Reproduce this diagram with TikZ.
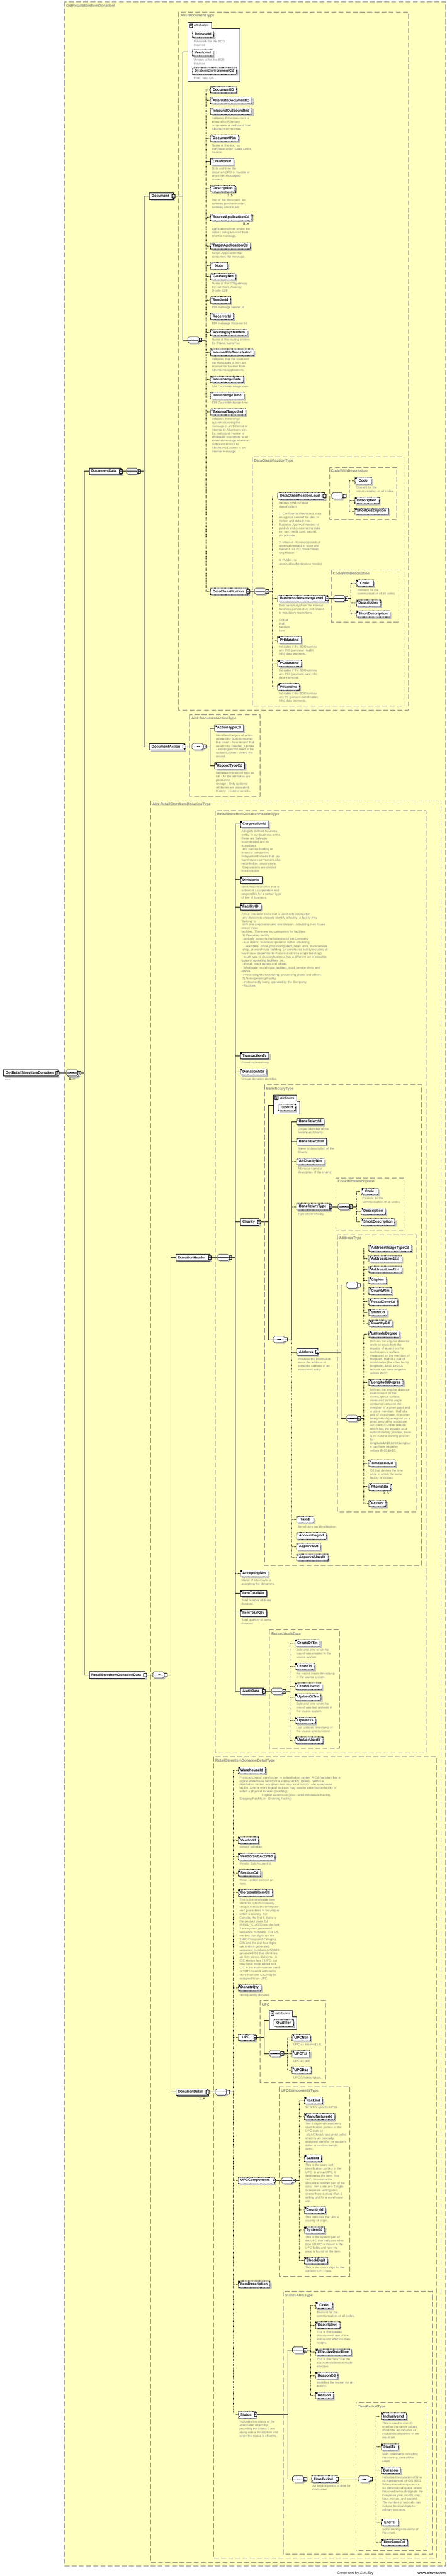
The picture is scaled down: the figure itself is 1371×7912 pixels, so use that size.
\documentclass[tikz,border=0pt]{standalone}
\usepackage{fontspec}
\setmainfont{Liberation Sans}
\usetikzlibrary{positioning,shadows,arrows.meta}

\definecolor{schemabg}{RGB}{255,255,192}
\definecolor{schemagray}{RGB}{128,128,128}

\pgfdeclarelayer{back}
\pgfdeclarelayer{wires}
\pgfsetlayers{back,wires,main}

\newcommand{\eqmark}{\draw[solid, line width=.6pt] ([shift={(2pt,-1.5pt)}]path picture bounding box.north west) -- ++(4pt,0pt) ++(-4pt,-1.7pt) -- ++(4pt,0pt) ++(-4pt,-1.7pt) -- ++(4pt,0pt);}
\newcommand{\refmark}{\draw[solid, line width=.6pt,-{Stealth[length=2.4pt,width=2.4pt]}] ([shift={(1.5pt,1.5pt)}]path picture bounding box.south west) -- ++(3.5pt,3.5pt);}
\newcommand{\seqoutline}[3]{([shift={(#2+4.5pt,#3)}]#1.north west) -- ([shift={(#2-4.5pt,#3)}]#1.north east) -- ([shift={(#2,#3-4.5pt)}]#1.north east) -- ([shift={(#2,#3+4.5pt)}]#1.south east) -- ([shift={(#2-4.5pt,#3)}]#1.south east) -- ([shift={(#2+4.5pt,#3)}]#1.south west) -- ([shift={(#2,#3+4.5pt)}]#1.south west) -- ([shift={(#2,#3-4.5pt)}]#1.north west) -- cycle}
\newcommand{\seqdraw}[2]{%
  \fill[black!25] \seqoutline{#1}{4pt}{-4pt};
  \ifnum#2=1\relax
    \fill[black!25] \seqoutline{#1}{7pt}{-7pt};
    \draw[fill=white, line width=.8pt] \seqoutline{#1}{3pt}{-3pt};
  \fi
  \draw[fill=white, line width=.8pt] \seqoutline{#1}{0pt}{0pt};
  \draw[line width=.8pt] ([xshift=2pt]#1.west) -- ([xshift=-2pt]#1.east);
  \foreach \k in {-4.5,0,4.5} \fill[black] ([xshift=\k pt]#1.center) +(-1.3pt,-1.3pt) rectangle +(1.3pt,1.3pt);
  \node[tog] at ([xshift=4pt]#1.east) {};}

\begin{document}
\begin{tikzpicture}[x=1pt, y=-1pt,
  el/.style={draw, fill=white, line width=.8pt, anchor=west,
    font=\fontsize{11}{13}\selectfont\bfseries,
    minimum height=20pt, minimum width=52pt, inner xsep=7pt, inner ysep=0pt,
    drop shadow={shadow xshift=5pt, shadow yshift=-5pt, fill=black!25, opacity=1}},
  opt/.style={dash pattern=on 2pt off 1.5pt},
  lf/.style={path picture={\eqmark}},
  lfr/.style={path picture={\eqmark\refmark}},
  rf/.style={path picture={\refmark}},
  tog/.style={draw, solid, fill=white, line width=.8pt, anchor=center, minimum width=9pt, minimum height=11pt, inner sep=0pt,
    path picture={\draw[line width=.8pt] ([xshift=1.8pt]path picture bounding box.west) -- ([xshift=-1.8pt]path picture bounding box.east);}},
  pa/.style={execute at end node={\hspace*{6pt}},
    append after command={\pgfextra{\let\pnode\tikzlastnode} node[tog] at ([xshift=-1pt]\pnode.east) {}}},
  ol/.style={el, opt, lf}, ml/.style={el, lf},
  olr/.style={el, opt, lfr}, mlr/.style={el, lfr},
  op/.style={el, opt, pa}, mp/.style={el, pa},
  opr/.style={el, opt, pa, rf},
  oa/.style={el, opt, minimum width=0pt},
  mu/.style={copy shadow={shadow xshift=3pt, shadow yshift=-3pt}},
  sqbox/.style={rectangle, anchor=west, minimum width=35pt, minimum height=19pt, inner sep=0pt, outer sep=0pt},
  sq/.style={sqbox, append after command={\pgfextra{\let\snode\tikzlastnode \seqdraw{\snode}{0}}}},
  sqm/.style={sqbox, append after command={\pgfextra{\let\snode\tikzlastnode \seqdraw{\snode}{1}}}},
  dsc/.style={anchor=north west, inner sep=0pt, align=left, text=schemagray, font=\fontsize{9.5}{11}\selectfont},
  mult/.style={anchor=north east, inner sep=0pt, font=\fontsize{10.5}{12}\selectfont},
  tbox/.style={draw=schemagray, line width=1pt, dash pattern=on 15pt off 7pt},
  tname/.style={anchor=west, inner sep=0pt, text=schemagray, font=\fontsize{11}{13}\selectfont\bfseries},
  attbox/.style={draw, fill=white, line width=.8pt},
  attname/.style={anchor=west, inner sep=0pt, font=\fontsize{11}{13}\selectfont\itshape},
  wire/.style={line width=.8pt},
  owire/.style={wire, dash pattern=on 2pt off 2pt}
]
\useasboundingbox (0,0) rectangle (1371,7912);
\begin{pgfonlayer}{back}
  \fill[schemabg] (198,5) rectangle (1367,7881);
\end{pgfonlayer}

% type frames
\draw[tbox] (198,5) rectangle (1367,7881);
\node[tname] (nOuter) at (203,18) {GetRetailStoreItemDonationt};
\draw[tbox] (548,37) rectangle (1253,2181);
\node[tname] (nDocumentType) at (554,49) {Abs:DocumentType};
\draw[tbox] (774,1403) rectangle (1239,2169);
\node[tname] (nDataClassificationType) at (780,1416) {DataClassificationType};
\draw[tbox] (1011,1435) rectangle (1218,1596);
\node[tname] (nCodeWithDescA) at (1016,1447) {CodeWithDescription};
\draw[tbox] (1017,1750) rectangle (1224,1911);
\node[tname] (nCodeWithDescB) at (1022,1762) {CodeWithDescription};
\draw[tbox] (582,2195) rectangle (798,2445);
\node[tname] (nDocumentActionType) at (588,2207) {Abs:DocumentActionType};
\draw[tbox] (462,2459) rectangle (1354,7870);
\node[tname] (nRetailStoreItemDonationType) at (468,2471) {Abs:RetailStoreItemDonationType};
\draw[tbox] (660,2490) rectangle (1308,5383);
\node[tname] (nHeaderType) at (666,2502) {RetailStoreItemDonationHeaderType};
\draw[tbox] (812,3331) rectangle (1293,4808);
\node[tname] (nBeneficiaryType) at (817,3344) {BeneficiaryType};
\draw[tbox] (1031,3618) rectangle (1239,3778);
\node[tname] (nCodeWithDescC) at (1037,3630) {CodeWithDescription};
\draw[tbox] (1035,3792) rectangle (1279,4643);
\node[tname] (nAddressType) at (1040,3804) {AddressType};
\draw[tbox] (827,5005) rectangle (1041,5370);
\node[tname] (nRecordAuditData) at (833,5017) {RecordAuditData};
\draw[tbox] (655,5395) rectangle (1339,7857);
\node[tname] (nDetailType) at (661,5408) {RetailStoreItemDonationDetailType};
\draw[tbox] (798,6144) rectangle (999,6396);
\node[tname] (nUPC) at (804,6157) {UPC};
\draw[tbox] (857,6409) rectangle (1074,6991);
\node[tname] (nUPCComponentsType) at (862,6422) {UPCComponentsType};
\draw[tbox] (869,7038) rectangle (1326,7845);
\node[tname] (nStatusABIEType) at (875,7051) {StatusABIEType};
\draw[tbox] (1093,7379) rectangle (1311,7833);
\node[tname] (nTimePeriodType) at (1099,7392) {TimePeriodType};

% root
\node[mp] (GetRetailStoreItemDonation) at (10,3295) {GetRetailStoreItemDonation};
\node[dsc] (rootNote) at ([shift={(5pt,-8pt)}]GetRetailStoreItemDonation.south west) {root};
\node[sqm] (sqRoot) at (204,3295) {};
\node[mult, anchor=north] (mRoot) at ([yshift=-5pt]sqRoot.south) {1..∞};
\node[mp] (DocumentData) at (273,1447) {DocumentData};
\node[sq] (sqDocumentData) at (388,1447) {};
\node[mp] (RetailStoreItemDonationData) at (273,5144) {RetailStoreItemDonationData};
\node[sq] (sqDonationData) at (469,5144) {};

% document
\node[mp] (Document) at (458,602) {Document};
\draw[attbox] (576,68) -- (649,68) -- (649,87) -- (736,87) -- (736,251) -- (576,251) -- cycle;
\node[tog] (tgAttrDocument) at (586,78) {};
\node[attname] (attrDocument) at (595,78) {attributes};
\coordinate (atDocument) at (576,159);
\node[oa] (ReleaseId) at (590,105) {ReleaseId};
\node[dsc] (dReleaseId) at ([shift={(4pt,-8pt)}]ReleaseId.south west) {ReleaseId for the BOD\\instance};
\node[oa] (VersionId) at (590,162) {VersionId};
\node[dsc] (dVersionId) at ([shift={(4pt,-8pt)}]VersionId.south west) {Version Id for the BOD\\instance};
\node[oa] (SystemEnvironmentCd) at (590,218) {SystemEnvironmentCd};
\node[dsc] (dSystemEnvironmentCd) at ([shift={(4pt,-8pt)}]SystemEnvironmentCd.south west) {Prod, Test, QA};
\node[sq] (sqDocument) at (576,1044) {};

\node[ol] (DocumentID) at (646,275) {DocumentID};
\node[ol] (AlternateDocumentID) at (646,308) {AlternateDocumentID};
\node[ol] (InboundOutboundInd) at (646,341) {InboundOutboundInd};
\node[dsc] (dInboundOutboundInd) at ([shift={(4pt,-8pt)}]InboundOutboundInd.south west) {Indicates if the document is\\inbound to Albertson\\companies or outbound from\\Albertson companies.};
\node[ol] (DocumentNm) at (646,424) {DocumentNm};
\node[dsc] (dDocumentNm) at ([shift={(4pt,-8pt)}]DocumentNm.south west) {Name of the doc. ex\\Purchase order, Sales Order,\\Invoice.};
\node[ml] (CreationDt) at (646,496) {CreationDt};
\node[dsc] (dCreationDt) at ([shift={(4pt,-8pt)}]CreationDt.south west) {Date and time the\\document( PO or Invoice or\\any other messages)\\created.};
\node[ol, mu] (Description) at (646,579) {Description};
\node[mult] (mDescription) at ([shift={(-7pt,-6pt)}]Description.south east) {0..5};
\node[dsc] (dDescription) at ([shift={(4pt,-22pt)}]Description.south west) {Dsc of the document. ex\\safeway purchase order,\\safeway invoice..etc};
\node[ol, mu] (SourceApplicationCd) at (646,667) {SourceApplicationCd};
\node[mult] (mSourceApplicationCd) at ([shift={(-7pt,-6pt)}]SourceApplicationCd.south east) {0..∞};
\node[dsc] (dSourceApplicationCd) at ([shift={(4pt,-22pt)}]SourceApplicationCd.south west) {Applications from where the\\data is being sourced from\\into the message.};
\node[ol] (TargetApplicationCd) at (646,755) {TargetApplicationCd};
\node[dsc] (dTargetApplicationCd) at ([shift={(4pt,-8pt)}]TargetApplicationCd.south west) {Target Application that\\consumes the message.};
\node[ol] (Note) at (646,816) {Note};
\node[ol] (GatewayNm) at (646,849) {GatewayNm};
\node[dsc] (dGatewayNm) at ([shift={(4pt,-8pt)}]GatewayNm.south west) {Name of the EDI gateway.\\Ex: Gentran, Axaway,\\Oracle B2B};
\node[ol] (SenderId) at (646,921) {SenderId};
\node[dsc] (dSenderId) at ([shift={(4pt,-8pt)}]SenderId.south west) {EDI message sender Id};
\node[ol] (ReceiverId) at (646,971) {ReceiverId};
\node[dsc] (dReceiverId) at ([shift={(4pt,-8pt)}]ReceiverId.south west) {EDI message Receiver Id};
\node[ol] (RoutingSystemNm) at (646,1021) {RoutingSystemNm};
\node[dsc] (dRoutingSystemNm) at ([shift={(4pt,-8pt)}]RoutingSystemNm.south west) {Name of the routing system.\\Ex iTrade, wims Fax};
\node[ol] (InternalFileTransferInd) at (646,1082) {InternalFileTransferInd};
\node[dsc] (dInternalFileTransferInd) at ([shift={(4pt,-8pt)}]InternalFileTransferInd.south west) {Indicates that the source of\\the messages is from an\\internal file transfer from\\Albertsons applications.};
\node[ol] (InterchangeDate) at (646,1165) {InterchangeDate};
\node[dsc] (dInterchangeDate) at ([shift={(4pt,-8pt)}]InterchangeDate.south west) {EDI Data interchange date};
\node[ol] (InterchangeTime) at (646,1215) {InterchangeTime};
\node[dsc] (dInterchangeTime) at ([shift={(4pt,-8pt)}]InterchangeTime.south west) {EDI Data interchange time};
\node[ol] (ExternalTargetInd) at (646,1265) {ExternalTargetInd};
\node[dsc] (dExternalTargetInd) at ([shift={(4pt,-8pt)}]ExternalTargetInd.south west) {Indicates if the target\\system receiving the\\message is an External or\\Internal to Albertsons cos.\\Ex: outbound invoice to\\wholesale customers is an\\external message where as\\outbound invoice to\\Albertsons Lawson is an\\Internal message.};
\node[op] (DataClassification) at (646,1816) {DataClassification};
\node[sq] (sqDataClassification) at (781,1816) {};

\node[op] (DataClassificationLevel) at (852,1523) {DataClassificationLevel};
\node[dsc] (dDataClassificationLevel) at ([shift={(4pt,-8pt)}]DataClassificationLevel.south west) {various levels of data\\classification\\[11pt]1- Confidential/Restricted, data\\encryption needed for data in\\motion and data in rest.\\Business Approval needed to\\publish and consume the data.\\ex: ssn, credit card, payroll,\\phi,pci data\\[11pt]2- Internal - No encryption but\\approval needed to store and\\transmit. ex PO, Store Order,\\Org Master\\[11pt]3- Public - no\\approval/authentication needed};
\node[sq] (sqDCLevel) at (1018,1523) {};
\node[olr] (CodeA) at (1088,1476) {Code};
\node[dsc] (dCodeA) at ([shift={(4pt,-8pt)}]CodeA.south west) {Element for the\\communication of all codes.};
\node[ol] (DescriptionA) at (1088,1537) {Description};
\node[ol] (ShortDescriptionA) at (1088,1570) {ShortDescription};
\node[op] (BusinessSensitivityLevel) at (852,1838) {BusinessSensitivityLevel};
\node[dsc] (dBusinessSensitivityLevel) at ([shift={(4pt,-8pt)}]BusinessSensitivityLevel.south west) {Data sensitivity from the internal\\business perspective, not related\\to regulatory restrictions.\\[11pt]Critical\\High\\Medium\\Low};
\node[sq] (sqBSLevel) at (1024,1838) {};
\node[olr] (CodeB) at (1093,1791) {Code};
\node[dsc] (dCodeB) at ([shift={(4pt,-8pt)}]CodeB.south west) {Element for the\\communication of all codes.};
\node[ol] (DescriptionB) at (1093,1852) {Description};
\node[ol] (ShortDescriptionB) at (1093,1885) {ShortDescription};
\node[ol] (PHIdataInd) at (852,1965) {PHIdataInd};
\node[dsc] (dPHIdataInd) at ([shift={(4pt,-8pt)}]PHIdataInd.south west) {Indicates if the BOD carries\\any PHI (personal Health\\Info) data elements.};
\node[ol] (PCIdataInd) at (852,2037) {PCIdataInd};
\node[dsc] (dPCIdataInd) at ([shift={(4pt,-8pt)}]PCIdataInd.south west) {Indicates if the BOD carries\\any PCI (payment card info)\\data elements.};
\node[ol] (PIIdataInd) at (852,2109) {PIIdataInd};
\node[dsc] (dPIIdataInd) at ([shift={(4pt,-8pt)}]PIIdataInd.south west) {Indicates if the BOD carries\\any PII (person identification\\Info) data elements.};

% document action
\node[mp] (DocumentAction) at (458,2293) {DocumentAction};
\node[sq] (sqDocumentAction) at (589,2293) {};
\node[ml] (ActionTypeCd) at (659,2236) {ActionTypeCd};
\node[dsc] (dActionTypeCd) at ([shift={(4pt,-8pt)}]ActionTypeCd.south west) {Identifies the type of action\\needed for BOD consumer\\like Insert - New record that\\need to be inserted, Update\\- existing record need to be\\updated,delete - delete the\\record.};
\node[ml] (RecordTypeCd) at (659,2352) {RecordTypeCd};
\node[dsc] (dRecordTypeCd) at ([shift={(4pt,-8pt)}]RecordTypeCd.south west) {Identifies the record type as\\full - All the attributes are\\populated,\\change - Only updated\\attributes are populated,\\History - Historic records.};

% donation header
\node[mp] (DonationHeader) at (539,3862) {DonationHeader};
\node[sq] (sqDonationHeader) at (668,3862) {};
\node[mlr] (CorporationId) at (737,2531) {CorporationId};
\node[dsc] (dCorporationId) at ([shift={(4pt,-8pt)}]CorporationId.south west) {A legally defined business\\entity. In our business terms\\these are Safeway\\Incorporated and its\\associates\\\hspace*{3pt}and various holding or\\financial companies.\\Independent stores that\hspace*{3pt} our\\warehouses service are also\\recorded as corporations.\\\hspace*{3pt}Corporations are divided\\into divisions};
\node[mlr] (DivisionId) at (737,2702) {DivisionId};
\node[dsc] (dDivisionId) at ([shift={(4pt,-8pt)}]DivisionId.south west) {Identifies the division that is\\subset of a corporation and\\responsible for a certain type\\of line of business.};
\node[ml] (FacilityID) at (737,2785) {FacilityID};
\node[dsc] (dFacilityID) at ([shift={(4pt,-8pt)}]FacilityID.south west) {A four character code that is used with corporation\\\hspace*{3pt}and division to uniquely identify a facility. A facility may\\"belong" to\\\hspace*{3pt}only one corporation and one division. A building may house\\one or more\\facilities. There are two categories for facilities:\\\hspace*{3pt}1) Operating facility\\\hspace*{3pt}- actively supports the business of the Company\\\hspace*{3pt}- is a distinct business operation within a building\\\hspace*{6pt}- examples: office, processing plant, retail store, truck service\\\hspace*{3pt}shop, or warehouse building\hspace*{3pt} (A warehouse facility includes all\\warehouse departments that exist within a single building.)\\\hspace*{3pt}- each type of division/business has a different set of possible\\types of operating facilities: i.e.,\\\hspace*{3pt}- Retail: retail outlets and offices.\\- Wholesale: warehouse facilities, truck service shop, and\\offices.\\- Processing/Manufacturing: processing plants and offices.\\\hspace*{3pt}2) Non-operating Facility\\\hspace*{3pt}- not currently being operated by the Company.\\\hspace*{3pt}- facilities};
\node[ml] (TransactionTs) at (737,3242) {TransactionTs};
\node[dsc] (dTransactionTs) at ([shift={(4pt,-8pt)}]TransactionTs.south west) {Donation timestamp.};
\node[ol] (DonationNbr) at (737,3292) {DonationNbr};
\node[dsc] (dDonationNbr) at ([shift={(4pt,-8pt)}]DonationNbr.south west) {Unique donation identifier.};
\node[mp] (Charity) at (737,3753) {Charity};
\node[ol] (AcceptingNm) at (737,4832) {AcceptingNm};
\node[dsc] (dAcceptingNm) at ([shift={(4pt,-8pt)}]AcceptingNm.south west) {Name of whomever is\\accepting the donations.};
\node[ml] (ItemTotalNbr) at (737,4893) {ItemTotalNbr};
\node[dsc] (dItemTotalNbr) at ([shift={(4pt,-8pt)}]ItemTotalNbr.south west) {Total number of items\\donated.};
\node[ml] (ItemTotalQty) at (737,4954) {ItemTotalQty};
\node[dsc] (dItemTotalQty) at ([shift={(4pt,-8pt)}]ItemTotalQty.south west) {Total quantity of items\\donated.};
\node[mp] (AuditData) at (737,5194) {AuditData};
\node[sq] (sqAuditData) at (833,5194) {};

% charity
\draw[attbox] (839,3363) -- (911,3363) -- (911,3382) -- (920,3382) -- (920,3421) -- (839,3421) -- cycle;
\node[tog] (tgAttrCharity) at (849,3372) {};
\node[attname] (attrCharity) at (858,3372) {attributes};
\coordinate (atCharity) at (839,3394);
\node[oa] (TypeCd) at (853,3401) {TypeCd};
\node[sq] (sqCharity) at (839,4114) {};
\node[ml] (BeneficiaryId) at (910,3445) {BeneficiaryId};
\node[dsc] (dBeneficiaryId) at ([shift={(4pt,-8pt)}]BeneficiaryId.south west) {Unique identifier of the\\beneficiary/charity.};
\node[ml] (BeneficiaryNm) at (910,3506) {BeneficiaryNm};
\node[dsc] (dBeneficiaryNm) at ([shift={(4pt,-8pt)}]BeneficiaryNm.south west) {Name or description of the\\Charity.};
\node[ol] (AltCharityNm) at (910,3567) {AltCharityNm};
\node[dsc] (dAltCharityNm) at ([shift={(4pt,-8pt)}]AltCharityNm.south west) {Alternate name or\\description of the charity.};
\node[op] (BeneficiaryType) at (910,3706) {BeneficiaryType};
\node[dsc] (dBeneficiaryType) at ([shift={(4pt,-8pt)}]BeneficiaryType.south west) {Type of beneficiary.};
\node[sq] (sqBeneficiaryType) at (1038,3706) {};
\node[olr] (CodeC) at (1108,3659) {Code};
\node[dsc] (dCodeC) at ([shift={(4pt,-8pt)}]CodeC.south west) {Element for the\\communication of all codes.};
\node[ol] (DescriptionC) at (1108,3720) {Description};
\node[ol] (ShortDescriptionC) at (1108,3753) {ShortDescription};
\node[el, pa, rf] (Address) at (910,4152) {Address};
\node[dsc] (dAddress) at ([shift={(4pt,-8pt)}]Address.south west) {Provides the information\\about the address or\\semantic address of an\\associated entity.};
\node[sq] (sqAddressA) at (1063,3947) {};
\node[sq] (sqAddressB) at (1063,4356) {};
\node[ol] (AddressUsageTypeCd) at (1132,3833) {AddressUsageTypeCd};
\node[ol] (AddressLine1txt) at (1132,3866) {AddressLine1txt};
\node[ol] (AddressLine2txt) at (1132,3899) {AddressLine2txt};
\node[ol] (CityNm) at (1132,3932) {CityNm};
\node[ol] (CountyNm) at (1132,3965) {CountyNm};
\node[ol] (PostalZoneCd) at (1132,3998) {PostalZoneCd};
\node[ol] (StateCd) at (1132,4031) {StateCd};
\node[ol] (CountryCd) at (1132,4064) {CountryCd};
\node[ol] (LatitudeDegree) at (1132,4097) {LatitudeDegree};
\node[dsc] (dLatitudeDegree) at ([shift={(4pt,-8pt)}]LatitudeDegree.south west) {Defines the angular distance\\north or south from the\\equator of a point on the\\earth\&apos;s surface,\\measured on the meridian of\\the point. Half of a pair of\\coordinates (the other being\\longitude).\&\#10;\&\#10;A\\latitude can have negative\\values.\&\#10;};
\node[ol] (LongitudeDegree) at (1132,4246) {LongitudeDegree};
\node[dsc] (dLongitudeDegree) at ([shift={(4pt,-8pt)}]LongitudeDegree.south west) {Defines the angular distance\\east or west on the\\earth\&apos;s surface,\\measured by the angle\\contained between the\\meridian of a given point and\\a prime meridian.\hspace*{3pt} Half of a\\pair of coordinates (the other\\being latitude) assigned via a\\point geocoding procedure.\\\&\#10;\&\#10;Unlike latitude,\\which has the equator as a\\natural starting position, there\\is no natural starting position\\for\\longitude\&\#10;\&\#10;Longitud\\e can have negative\\values.\&\#10;\&\#10;};
\node[ol] (TimeZoneCdA) at (1132,4494) {TimeZoneCd};
\node[dsc] (dTimeZoneCdA) at ([shift={(4pt,-8pt)}]TimeZoneCdA.south west) {Cd that defines the time\\zone in which the store\\facility is located.};
\node[ol, mu] (PhoneNbr) at (1132,4566) {PhoneNbr};
\node[mult] (mPhoneNbr) at ([shift={(-6pt,-6pt)}]PhoneNbr.south east) {0..3};
\node[ol] (FaxNbr) at (1132,4618) {FaxNbr};
\node[ol] (TaxId) at (910,4667) {TaxId};
\node[dsc] (dTaxId) at ([shift={(4pt,-8pt)}]TaxId.south west) {Beneficiary tax identification.};
\node[ol] (AccountingInd) at (910,4717) {AccountingInd};
\node[ol] (ApprovalDt) at (910,4750) {ApprovalDt};
\node[ol] (ApprovalUserId) at (910,4783) {ApprovalUserId};

% audit data
\node[ol] (CreateDtTm) at (905,5046) {CreateDtTm};
\node[dsc] (dCreateDtTm) at ([shift={(4pt,-8pt)}]CreateDtTm.south west) {Date and time when the\\record was created in the\\source system.};
\node[ol] (CreateTs) at (905,5118) {CreateTs};
\node[dsc] (dCreateTs) at ([shift={(4pt,-8pt)}]CreateTs.south west) {the record create timestamp\\in the source system.};
\node[ol] (CreateUserId) at (905,5179) {CreateUserId};
\node[ol] (UpdateDtTm) at (905,5212) {UpdateDtTm};
\node[dsc] (dUpdateDtTm) at ([shift={(4pt,-8pt)}]UpdateDtTm.south west) {Date and time when the\\record was last updated in\\the source system.};
\node[ol] (UpdateTs) at (905,5284) {UpdateTs};
\node[dsc] (dUpdateTs) at ([shift={(4pt,-8pt)}]UpdateTs.south west) {Last updated timestamp of\\the source sytem record.};
\node[ol] (UpdateUserId) at (905,5345) {UpdateUserId};

% donation detail
\node[mp, mu] (DonationDetail) at (539,6425) {DonationDetail};
\node[mult] (mDonationDetail) at ([shift={(-7pt,-6pt)}]DonationDetail.south east) {1..∞};
\node[sq] (sqDonationDetail) at (661,6425) {};
\node[olr] (WarehouseId) at (731,5437) {WarehouseId};
\node[dsc] (dWarehouseId) at ([shift={(4pt,-8pt)}]WarehouseId.south west) {Physical/Logical warehouse\hspace*{3pt} in a distribution center. A Cd that identifies a\\logical warehouse facility or a supply facility\hspace*{3pt} (plant).\hspace*{3pt} Within a\\distribution center, any given item may exist in only\hspace*{3pt} one warehouse\\facility. One or more logical facilities may exist in adistribution facility or\\within a physical location (building).\\\hspace*{69pt}Logical warehouse (also called Wholesale Facility,\\Shipping Facility, or\hspace*{3pt} Ordering Facility)};
\node[ol] (VendorId) at (731,5652) {VendorId};
\node[dsc] (dVendorId) at ([shift={(4pt,-8pt)}]VendorId.south west) {Vendor Identifier.};
\node[ol] (VendorSubAccntId) at (731,5702) {VendorSubAccntId};
\node[dsc] (dVendorSubAccntId) at ([shift={(4pt,-8pt)}]VendorSubAccntId.south west) {Vendor Sub Account Id};
\node[ol] (SectionCd) at (731,5752) {SectionCd};
\node[dsc] (dSectionCd) at ([shift={(4pt,-8pt)}]SectionCd.south west) {Retail section code of an\\item.};
\node[olr] (CorporateItemCd) at (731,5813) {CorporateItemCd};
\node[dsc] (dCorporateItemCd) at ([shift={(4pt,-8pt)}]CorporateItemCd.south west) {This is the wholesale item\\identifier, which is usually\\unique across the enterprise\\and guaranteed to be unique\\within a country. For\\Canada, the first 5 digits is\\the product class Cd\\(PROD\_CLASS) and the last\\3 are system generated\\sequence numbers.\hspace*{3pt} For US,\\the first four digits are the\\SMIC Group and Category\\Cds and the last four digits\\are system generated\\sequence numbers.A SSIMS\\generated Cd that identifies\\an item across divisions.\hspace*{3pt} A\\CIC always has 1 UPC, but\\may have more added to it.\\CIC is the main number used\\in SIMS to work with items.\\More than one CIC may be\\assigned to an UPC.};
\node[ol] (DonateQty) at (731,6105) {DonateQty};
\node[dsc] (dDonateQty) at ([shift={(4pt,-8pt)}]DonateQty.south west) {Item quantity donated.};
\node[op] (UPC) at (731,6257) {UPC};
\node[op] (UPCComponents) at (731,6697) {UPCComponents};
\node[ol] (ItemDescription) at (731,7016) {ItemDescription};
\node[opr] (Status) at (731,7416) {Status};
\node[dsc] (dStatus) at ([shift={(4pt,-8pt)}]Status.south west) {Indicates the status of the\\associated object by\\providing the Status Code\\along with a description and\\when the status is effective.};

% upc
\draw[attbox] (826,6175) -- (898,6175) -- (898,6194) -- (911,6194) -- (911,6234) -- (826,6234) -- cycle;
\node[tog] (tgAttrUPC) at (836,6184) {};
\node[attname] (attrUPC) at (845,6184) {attributes};
\coordinate (atUPC) at (826,6205);
\node[oa] (Qualifier) at (841,6214) {Qualifier};
\node[sq] (sqUPC) at (827,6307) {};
\node[ol] (UPCNbr) at (896,6258) {UPCNbr};
\node[dsc] (dUPCNbr) at ([shift={(4pt,-8pt)}]UPCNbr.south west) {UPC as decimal(14)};
\node[ol] (UPCTxt) at (896,6308) {UPCTxt};
\node[dsc] (dUPCTxt) at ([shift={(4pt,-8pt)}]UPCTxt.south west) {UPC as text};
\node[ol] (UPCDsc) at (896,6358) {UPCDsc};
\node[dsc] (dUPCDsc) at ([shift={(4pt,-8pt)}]UPCDsc.south west) {UPC full description.};

% upc components
\node[sq] (sqUPCComponents) at (864,6697) {};
\node[ol] (PackInd) at (933,6451) {PackInd};
\node[dsc] (dPackInd) at ([shift={(4pt,-8pt)}]PackInd.south west) {for GTIN specific UPCs.};
\node[ol] (ManufacturerId) at (933,6501) {ManufacturerId};
\node[dsc] (dManufacturerId) at ([shift={(4pt,-8pt)}]ManufacturerId.south west) {The 5 digit manufacturer\textquotesingle s\\identification portion of the\\UPC code or\\\hspace*{3pt}a LAC(locally assigned code)\\which is an internally\\assigned identifer for random\\dollar or random weight\\items.};
\node[ol] (SalesId) at (933,6628) {SalesId};
\node[dsc] (dSalesId) at ([shift={(4pt,-8pt)}]SalesId.south west) {This is the sales unit\\identification portion of the\\UPC. In a true UPC, it\\designates the item. In a\\LAC, it contains the\\sequence number part of the\\corp. item code and 2 digits\\to separate selling units\\where there is more than 1\\selling unit for a warehouse\\unit.};
\node[ol] (CountryId) at (933,6788) {CountryId};
\node[dsc] (dCountryId) at ([shift={(4pt,-8pt)}]CountryId.south west) {This indicates the UPC\textquotesingle s\\country of origin.};
\node[ol] (SystemId) at (933,6849) {SystemId};
\node[dsc] (dSystemId) at ([shift={(4pt,-8pt)}]SystemId.south west) {This is the system part of\\the UPC that indicates what\\type of UPC is stored in the\\UPC fields and how the\\price is found for the item.};
\node[ol] (CheckDigit) at (933,6943) {CheckDigit};
\node[dsc] (dCheckDigit) at ([shift={(4pt,-8pt)}]CheckDigit.south west) {This is the check digit for the\\numeric UPC code.};

% status
\node[sq] (sqStatusA) at (898,7218) {};
\node[sq] (sqStatusB) at (898,7614) {};
\node[olr] (CodeD) at (968,7080) {Code};
\node[dsc] (dCodeD) at ([shift={(4pt,-8pt)}]CodeD.south west) {Element for the\\communication of all codes.};
\node[ol] (DescriptionD) at (968,7141) {Description};
\node[dsc] (dDescriptionD) at ([shift={(4pt,-8pt)}]DescriptionD.south west) {This is the detailed\\description if any of the\\status and effective date\\ranges.};
\node[ol] (EffectiveDateTime) at (968,7224) {EffectiveDateTime};
\node[dsc] (dEffectiveDateTime) at ([shift={(4pt,-8pt)}]EffectiveDateTime.south west) {This is the DateTime the\\associated object is made\\effective.};
\node[ol] (ReasonCd) at (968,7296) {ReasonCd};
\node[dsc] (dReasonCd) at ([shift={(4pt,-8pt)}]ReasonCd.south west) {Identifies the reason for an\\activity.};
\node[ol] (Reason) at (968,7357) {Reason};
\node[opr] (TimePeriod) at (955,7614) {TimePeriod};
\node[dsc] (dTimePeriod) at ([shift={(4pt,-8pt)}]TimePeriod.south west) {An explicit period of time for\\the bucket.};
\node[sq] (sqTimePeriod) at (1100,7614) {};
\node[ol] (InclusiveInd) at (1169,7421) {InclusiveInd};
\node[dsc] (dInclusiveInd) at ([shift={(4pt,-8pt)}]InclusiveInd.south west) {This is used to identify\\whether the range values\\should be an included or\\excluded component of the\\result set.};
\node[ol] (StartTs) at (1169,7515) {StartTs};
\node[dsc] (dStartTs) at ([shift={(4pt,-8pt)}]StartTs.south west) {Start timestamp indicating\\the starting point of the\\event.};
\node[ol] (Duration) at (1169,7587) {Duration};
\node[dsc] (dDuration) at ([shift={(4pt,-8pt)}]Duration.south west) {Indicates the duration of time\\as represented by ISO 8601.\\Where the value space is a\\six dimensional space where\\the coordinates designate the\\Gregorian year, month, day,\\hour, minute, and second.\\The number of seconds can\\include decimal digits to\\arbitary pecision.};
\node[ol] (EndTs) at (1169,7747) {EndTs};
\node[dsc] (dEndTs) at ([shift={(4pt,-8pt)}]EndTs.south west) {Is the ending timestamp of\\the event.};
\node[ol] (TimeZoneCdB) at (1169,7808) {TimeZoneCd};

\node[anchor=west, inner sep=0pt, font=\fontsize{11}{13}\selectfont] (generated) at (1035,7903) {Generated by XMLSpy};
\node[anchor=east, inner sep=0pt, font=\fontsize{11}{13}\selectfont\bfseries] (altova) at (1368,7903) {www.altova.com};

% connectors
\begin{pgfonlayer}{wires}
  \coordinate (jRoot) at (259,3295);
  \draw[wire] (GetRetailStoreItemDonation.east) -- (sqRoot.west);
  \draw[wire] (sqRoot.east) -- (jRoot);
  \draw[wire] (jRoot) |- (DocumentData.west);
  \draw[wire] (jRoot) |- (RetailStoreItemDonationData.west);

  \coordinate (jDocumentData) at (442,1447);
  \draw[wire] (DocumentData.east) -- (sqDocumentData.west);
  \draw[wire] (sqDocumentData.east) -- (jDocumentData);
  \draw[wire] (jDocumentData) |- (Document.west);
  \draw[wire] (jDocumentData) |- (DocumentAction.west);

  \coordinate (jDocument) at (561,602);
  \draw[wire] (Document.east) -- (jDocument);
  \draw[wire] (jDocument) |- (atDocument);
  \draw[wire] (jDocument) |- (sqDocument.west);
  \coordinate (jDocSeq) at (631,1044);
  \draw[wire] (sqDocument.east) -- (jDocSeq);
  \draw[owire] (jDocSeq) |- (DocumentID.west);
  \draw[owire] (jDocSeq) |- (DataClassification.west);
  \foreach \n in {AlternateDocumentID,InboundOutboundInd,DocumentNm,Description,SourceApplicationCd,TargetApplicationCd,Note,GatewayNm,SenderId,ReceiverId,RoutingSystemNm,InternalFileTransferInd,InterchangeDate,InterchangeTime,ExternalTargetInd}
    \draw[owire] (\n.west -| jDocSeq) -- (\n.west);
  \draw[wire] (CreationDt.west -| jDocSeq) -- (CreationDt.west);

  \coordinate (jDCSeq) at (836,1816);
  \draw[wire] (DataClassification.east) -- (sqDataClassification.west);
  \draw[wire] (sqDataClassification.east) -- (jDCSeq);
  \draw[owire] (jDCSeq) |- (DataClassificationLevel.west);
  \draw[owire] (jDCSeq) |- (PIIdataInd.west);
  \foreach \n in {BusinessSensitivityLevel,PHIdataInd,PCIdataInd}
    \draw[owire] (\n.west -| jDCSeq) -- (\n.west);

  \coordinate (jDCLevel) at (1071,1523);
  \draw[wire] (DataClassificationLevel.east) -- (sqDCLevel.west);
  \draw[wire] (sqDCLevel.east) -- (jDCLevel);
  \draw[owire] (jDCLevel) |- (CodeA.west);
  \draw[owire] (jDCLevel) |- (ShortDescriptionA.west);
  \draw[owire] (DescriptionA.west -| jDCLevel) -- (DescriptionA.west);

  \coordinate (jBSLevel) at (1077,1838);
  \draw[wire] (BusinessSensitivityLevel.east) -- (sqBSLevel.west);
  \draw[wire] (sqBSLevel.east) -- (jBSLevel);
  \draw[owire] (jBSLevel) |- (CodeB.west);
  \draw[owire] (jBSLevel) |- (ShortDescriptionB.west);
  \draw[owire] (DescriptionB.west -| jBSLevel) -- (DescriptionB.west);

  \coordinate (jDocumentAction) at (644,2293);
  \draw[wire] (DocumentAction.east) -- (sqDocumentAction.west);
  \draw[wire] (sqDocumentAction.east) -- (jDocumentAction);
  \draw[wire] (jDocumentAction) |- (ActionTypeCd.west);
  \draw[wire] (jDocumentAction) |- (RecordTypeCd.west);

  \coordinate (jDonationData) at (524,5144);
  \draw[wire] (RetailStoreItemDonationData.east) -- (sqDonationData.west);
  \draw[wire] (sqDonationData.east) -- (jDonationData);
  \draw[wire] (jDonationData) |- (DonationHeader.west);
  \draw[wire] (jDonationData) |- (DonationDetail.west);

  \coordinate (jDonationHeader) at (722,3862);
  \draw[wire] (DonationHeader.east) -- (sqDonationHeader.west);
  \draw[wire] (sqDonationHeader.east) -- (jDonationHeader);
  \draw[wire] (jDonationHeader) |- (CorporationId.west);
  \draw[wire] (jDonationHeader) |- (AuditData.west);
  \foreach \n in {DivisionId,FacilityID,TransactionTs,Charity,ItemTotalNbr,ItemTotalQty}
    \draw[wire] (\n.west -| jDonationHeader) -- (\n.west);
  \foreach \n in {DonationNbr,AcceptingNm}
    \draw[owire] (\n.west -| jDonationHeader) -- (\n.west);

  \coordinate (jCharity) at (824,3753);
  \draw[wire] (Charity.east) -- (jCharity);
  \draw[wire] (jCharity) |- (atCharity);
  \draw[wire] (jCharity) |- (sqCharity.west);
  \coordinate (jCharitySeq) at (894,4114);
  \draw[wire] (sqCharity.east) -- (jCharitySeq);
  \draw[wire] (jCharitySeq) |- (BeneficiaryId.west);
  \draw[owire] (jCharitySeq) |- (ApprovalUserId.west);
  \foreach \n in {BeneficiaryNm,Address}
    \draw[wire] (\n.west -| jCharitySeq) -- (\n.west);
  \foreach \n in {AltCharityNm,BeneficiaryType,TaxId,AccountingInd,ApprovalDt}
    \draw[owire] (\n.west -| jCharitySeq) -- (\n.west);

  \coordinate (jBenType) at (1094,3706);
  \draw[wire] (BeneficiaryType.east) -- (sqBeneficiaryType.west);
  \draw[wire] (sqBeneficiaryType.east) -- (jBenType);
  \draw[owire] (jBenType) |- (CodeC.west);
  \draw[owire] (jBenType) |- (ShortDescriptionC.west);
  \draw[owire] (DescriptionC.west -| jBenType) -- (DescriptionC.west);

  \coordinate (jAddress) at (1046,4152);
  \draw[wire] (Address.east) -- (jAddress);
  \draw[wire] (jAddress) |- (sqAddressA.west);
  \draw[wire] (jAddress) |- (sqAddressB.west);
  \coordinate (jAddressA) at (1116,3947);
  \draw[wire] (sqAddressA.east) -- (jAddressA);
  \draw[owire] (jAddressA) |- (AddressUsageTypeCd.west);
  \draw[owire] (jAddressA) |- (CountryCd.west);
  \foreach \n in {AddressLine1txt,AddressLine2txt,CityNm,CountyNm,PostalZoneCd,StateCd}
    \draw[owire] (\n.west -| jAddressA) -- (\n.west);
  \coordinate (jAddressB) at (1116,4356);
  \draw[wire] (sqAddressB.east) -- (jAddressB);
  \draw[owire] (jAddressB) |- (LatitudeDegree.west);
  \draw[owire] (jAddressB) |- (FaxNbr.west);
  \foreach \n in {LongitudeDegree,TimeZoneCdA,PhoneNbr}
    \draw[owire] (\n.west -| jAddressB) -- (\n.west);

  \coordinate (jAuditData) at (890,5194);
  \draw[wire] (AuditData.east) -- (sqAuditData.west);
  \draw[wire] (sqAuditData.east) -- (jAuditData);
  \draw[owire] (jAuditData) |- (CreateDtTm.west);
  \draw[owire] (jAuditData) |- (UpdateUserId.west);
  \foreach \n in {CreateTs,CreateUserId,UpdateDtTm,UpdateTs}
    \draw[owire] (\n.west -| jAuditData) -- (\n.west);

  \coordinate (jDonationDetail) at (716,6425);
  \draw[wire] (DonationDetail.east) -- (sqDonationDetail.west);
  \draw[wire] (sqDonationDetail.east) -- (jDonationDetail);
  \draw[owire] (jDonationDetail) |- (WarehouseId.west);
  \draw[owire] (jDonationDetail) |- (Status.west);
  \foreach \n in {VendorId,VendorSubAccntId,SectionCd,CorporateItemCd,DonateQty,UPC,UPCComponents,ItemDescription}
    \draw[owire] (\n.west -| jDonationDetail) -- (\n.west);

  \coordinate (jUPC) at (811,6257);
  \draw[wire] (UPC.east) -- (jUPC);
  \draw[wire] (jUPC) |- (atUPC);
  \draw[wire] (jUPC) |- (sqUPC.west);
  \coordinate (jUPCSeq) at (882,6307);
  \draw[wire] (sqUPC.east) -- (jUPCSeq);
  \draw[owire] (jUPCSeq) |- (UPCNbr.west);
  \draw[owire] (jUPCSeq) |- (UPCDsc.west);
  \draw[owire] (UPCTxt.west -| jUPCSeq) -- (UPCTxt.west);

  \coordinate (jUPCComp) at (918,6697);
  \draw[wire] (UPCComponents.east) -- (sqUPCComponents.west);
  \draw[wire] (sqUPCComponents.east) -- (jUPCComp);
  \draw[owire] (jUPCComp) |- (PackInd.west);
  \draw[owire] (jUPCComp) |- (CheckDigit.west);
  \foreach \n in {ManufacturerId,SalesId,CountryId,SystemId}
    \draw[owire] (\n.west -| jUPCComp) -- (\n.west);

  \coordinate (jStatus) at (883,7416);
  \draw[wire] (Status.east) -- (jStatus);
  \draw[wire] (jStatus) |- (sqStatusA.west);
  \draw[wire] (jStatus) |- (sqStatusB.west);
  \coordinate (jStatusA) at (953,7218);
  \draw[wire] (sqStatusA.east) -- (jStatusA);
  \draw[owire] (jStatusA) |- (CodeD.west);
  \draw[owire] (jStatusA) |- (Reason.west);
  \foreach \n in {DescriptionD,EffectiveDateTime,ReasonCd}
    \draw[owire] (\n.west -| jStatusA) -- (\n.west);
  \draw[owire] (sqStatusB.east) -- (TimePeriod.west);

  \coordinate (jTimePeriod) at (1154,7614);
  \draw[wire] (TimePeriod.east) -- (sqTimePeriod.west);
  \draw[wire] (sqTimePeriod.east) -- (jTimePeriod);
  \draw[owire] (jTimePeriod) |- (InclusiveInd.west);
  \draw[owire] (jTimePeriod) |- (TimeZoneCdB.west);
  \foreach \n in {StartTs,Duration,EndTs}
    \draw[owire] (\n.west -| jTimePeriod) -- (\n.west);
\end{pgfonlayer}
\end{tikzpicture}
\end{document}
